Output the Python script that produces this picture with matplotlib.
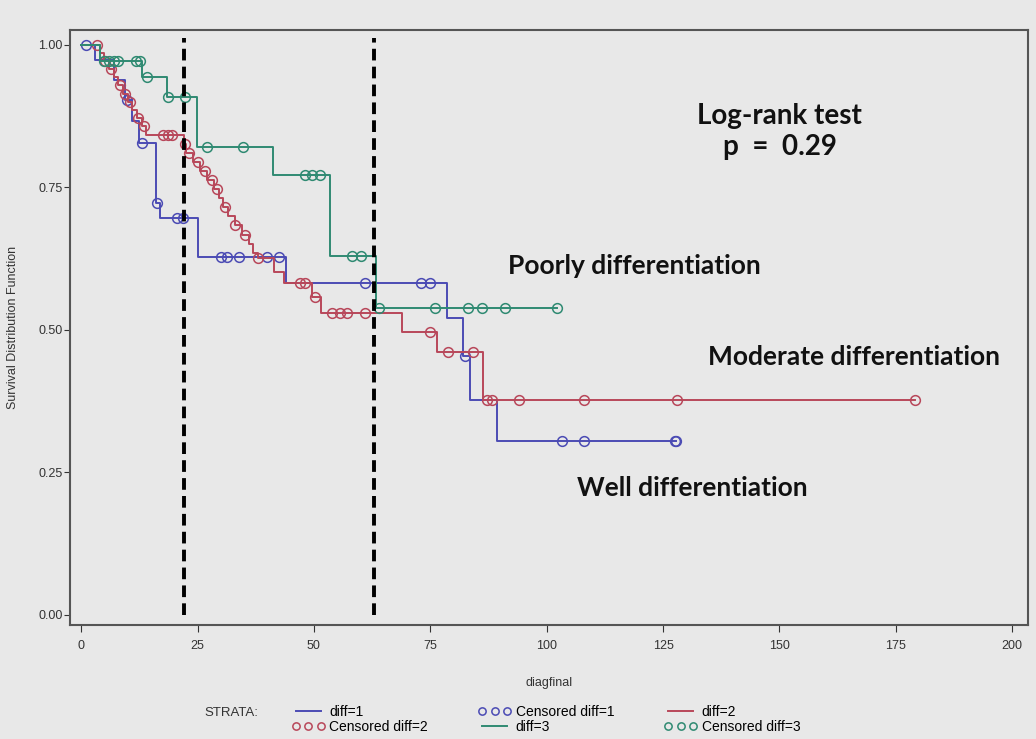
import numpy as np
import matplotlib
matplotlib.use("Agg")
import matplotlib.pyplot as plt

plt.rcParams['font.family'] = ['Liberation Sans', 'DejaVu Sans']

# diff=1 (well differentiation)
t1 = [0, 3, 7, 9.5, 11, 12.5, 16, 17, 25, 44, 78.6, 82, 83.6, 89.4]
s1 = [1.0, 0.974, 0.939, 0.904, 0.866, 0.828, 0.723, 0.696, 0.628, 0.582, 0.521, 0.454, 0.377, 0.305]
c1 = [1, 9.9, 13, 16.2, 20.5, 21.8, 30, 31.3, 33.8, 40, 42.5, 61, 73, 75, 82.5, 103.3, 108, 127.5, 127.8]

# diff=2 (moderate differentiation)
t2 = [0, 4, 5, 6, 7, 8, 9, 10, 11, 12, 13, 14, 22, 22.5, 24, 25.5, 27, 28.5, 29.5, 30.5,
      31.5, 33, 34.5, 36, 37, 38, 41.5, 43.5, 49.5, 51.5, 69, 76.5, 86.4]
s2 = [1.0, 0.985, 0.971, 0.957, 0.943, 0.929, 0.914, 0.900, 0.886, 0.871, 0.857, 0.842,
      0.826, 0.811, 0.795, 0.779, 0.763, 0.747, 0.731, 0.715, 0.699, 0.683, 0.667, 0.651,
      0.635, 0.626, 0.602, 0.582, 0.558, 0.530, 0.496, 0.461, 0.377]
c2 = [3.4, 5.2, 6.5, 8.3, 9.5, 10.5, 12.2, 13.5, 17.6, 18.7, 19.5, 22.2, 23.2, 25.1, 26.6,
      28.1, 29.2, 30.9, 33.1, 35.2, 38, 47, 48.1, 50.3, 53.9, 55.5, 57.1, 61, 75, 78.8,
      84.2, 87.2, 88.3, 94.1, 108, 128, 179.2]

# diff=3 (poorly differentiation)
t3 = [0, 4, 13.1, 18.5, 24.9, 41.2, 53.5, 63.4]
s3 = [1.0, 0.971, 0.943, 0.909, 0.821, 0.772, 0.630, 0.539]
c3 = [5, 6, 7, 8, 11.8, 12.6, 14.2, 18.7, 22.3, 27, 34.8, 48, 49.5, 51.3, 58.2, 60, 64,
      76, 83, 86, 91, 102.3]

cut_points = [22, 63]

blue = '#4b4bb4'
red = '#b8475a'
green = '#2f8a72'
bg = '#e8e8e8'


def surv_at(times, surv, pts):
    idx = np.searchsorted(times, pts, side='right') - 1
    return np.asarray(surv)[idx]


fig = plt.figure(figsize=(10.36, 7.39), dpi=100, facecolor=bg)
ax = fig.add_axes([0.0676, 0.1543, 0.9247, 0.8051], facecolor=bg)

handles = []
for t, s, c, col, name in [(t1, s1, c1, blue, '1'), (t2, s2, c2, red, '2'), (t3, s3, c3, green, '3')]:
    tt = list(t) + [max(c)]
    ss = list(s) + [s[-1]]
    ln, = ax.step(tt, ss, where='post', color=col, lw=1.4, label='diff=' + name)
    mk, = ax.plot(c, surv_at(t, s, c), ls='none', marker='o', ms=7, mfc='none',
                  mec=col, mew=1.1, label='Censored diff=' + name)
    handles.append((ln, mk))

ax.vlines(cut_points, 0.0, 1.012, colors='black', lw=2.8, linestyles=(0, (3, 1.6)), zorder=5)

ax.set_xlim(-2.4, 203.4)
ax.set_ylim(-0.018, 1.026)
ax.set_xticks(np.arange(0, 201, 25))
ax.set_yticks([0, 0.25, 0.5, 0.75, 1.0])
ax.set_yticklabels(['0.00', '0.25', '0.50', '0.75', '1.00'])
ax.tick_params(labelsize=9, colors='#333333', length=5)
ax.tick_params(axis='y', length=4, pad=1.5)
ax.tick_params(axis='x', pad=6)
for sp in ax.spines.values():
    sp.set_color('#555555')
    sp.set_linewidth(1.5)
ax.set_xlabel('diagfinal', fontsize=9, color='#333333', labelpad=18)
ax.set_ylabel('Survival Distribution Function', fontsize=9, color='#333333', labelpad=14)

bold = dict(family='Lato', fontweight='bold', color='#111111')
ax.text(150, 0.848, 'Log-rank test\np  =  0.29', ha='center', va='center', linespacing=1.25,
        fontsize=20, **bold)
ax.text(91.7, 0.612, 'Poorly differentiation', ha='left', va='center', fontsize=19, **bold)
ax.text(134.7, 0.453, 'Moderate differentiation', ha='left', va='center', fontsize=19, **bold)
ax.text(106.6, 0.223, 'Well differentiation', ha='left', va='center', fontsize=19, **bold)

# legend fills column-wise, so reorder to read row by row like SAS
(l1, m1), (l2, m2), (l3, m3) = handles
order = [l1, m2, m1, l3, l2, m3]
fig.legend(order, [h.get_label() for h in order], ncol=3, loc='center',
           bbox_to_anchor=(0.527, 0.0265), frameon=False, fontsize=10, numpoints=3,
           markerscale=0.75, handlelength=2.4, handletextpad=0.3, columnspacing=3.6,
           labelspacing=0.1, borderpad=0.2)
fig.text(0.197, 0.0355, 'STRATA:', fontsize=9.5, color='#333333', va='center')

fig.savefig('out.png', dpi=100, facecolor=bg)
